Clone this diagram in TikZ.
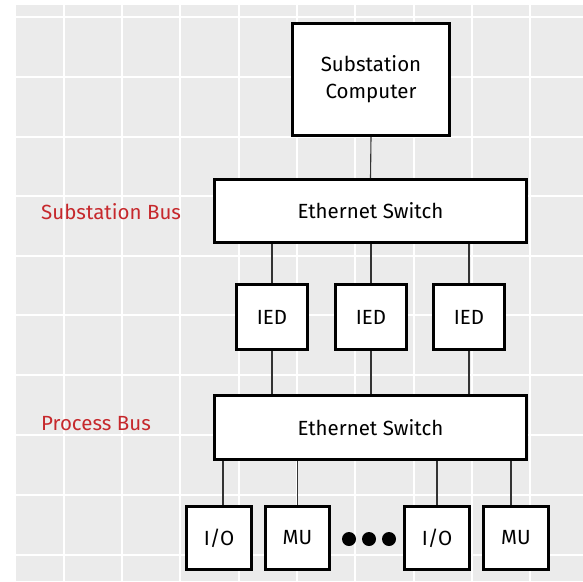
\documentclass[tikz,border=0pt]{standalone}
\usepackage{fontspec}
\setmainfont{Fira Sans}
\usepackage{xcolor}
\usetikzlibrary{positioning}
\definecolor{panelgray}{RGB}{235,235,235}
\definecolor{busred}{RGB}{198,40,44}

\begin{document}
\begin{tikzpicture}[x=1pt,y=-1pt,
    box/.style={draw,line width=3pt,fill=white,align=center,inner sep=0pt,
      font=\fontsize{20.5}{27}\selectfont},
    link/.style={draw=black!80,line width=1.1pt},
    buslabel/.style={anchor=west,inner sep=0pt,text=busred,
      font=\fontsize{20.5}{24}\selectfont}]
  \useasboundingbox (0,0) rectangle (583,581);
  % panel and grid
  \fill[panelgray] (16,5) rectangle (583,581);
  \foreach \x in {64,122,180,239,297,355,414,472,530}
    \draw[white,line width=1.2pt] (\x,5) -- (\x,581);
  \foreach \y in {17,77,137,196,256,315,375,435,495,555}
    \draw[white,line width=1.2pt] (16,\y) -- (583,\y);

  \node[box,minimum width=157,minimum height=112] (sc) at (371,79.5) {Substation\\Computer};
  \node[box,minimum width=312,minimum height=63] (es1) at (370.5,211) {Ethernet Switch};
  \node[box,minimum width=71,minimum height=65] (ied1) at (272,317) {IED};
  \node[box,minimum width=71,minimum height=65] (ied2) at (371,317) {IED};
  \node[box,minimum width=71,minimum height=65] (ied3) at (469,317) {IED};
  \node[box,minimum width=312,minimum height=64] (es2) at (370.5,427.5) {Ethernet Switch};
  \node[box,minimum width=65,minimum height=63] (io1) at (219,538) {I/O};
  \node[box,minimum width=64,minimum height=63] (mu1) at (297.5,538) {MU};
  \node[box,minimum width=65,minimum height=63] (io2) at (437,538) {I/O};
  \node[box,minimum width=65,minimum height=63] (mu2) at (516,538) {MU};

  \node[buslabel] (sbus) at (41,212) {Substation Bus};
  \node[buslabel] (pbus) at (41,424) {Process Bus};

  % connectors
  \path[link] (sc.south) -- (es1.north);
  \foreach \n in {ied1,ied2,ied3} {
    \path[link] (\n.north) -- (\n.north |- es1.south);
    \path[link] (\n.south) -- (\n.south |- es2.north);
  }
  \path[link] ([xshift=4pt]io1.north) -- ([xshift=4pt]io1.north |- es2.south);
  \path[link] (mu1.north) -- (mu1.north |- es2.south);
  \path[link] (io2.north) -- (io2.north |- es2.south);
  \path[link] ([xshift=-5pt]mu2.north) -- ([xshift=-5pt]mu2.north |- es2.south);

  % dots
  \foreach \x in {349,369,389}
    \fill (\x,539) circle (7);
\end{tikzpicture}
\end{document}
